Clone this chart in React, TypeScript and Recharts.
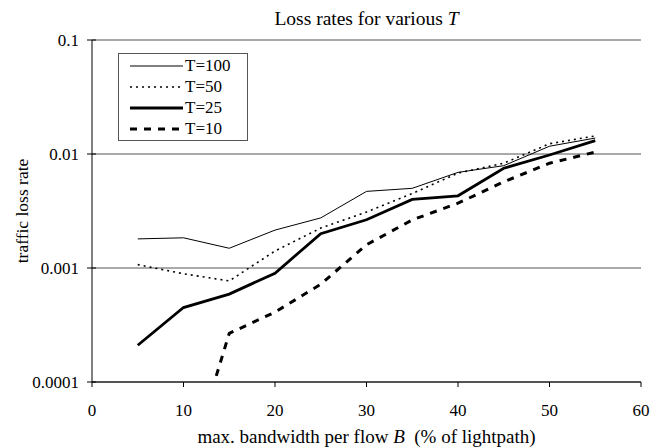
import { CartesianGrid, Label, Line, LineChart, XAxis, YAxis } from "recharts";

const bandwidth = [5, 10, 15, 20, 25, 30, 35, 40, 45, 50, 55];
const lossT100 = [0.0018, 0.00184, 0.00149, 0.00215, 0.00275, 0.0047, 0.005, 0.0069, 0.0079, 0.0117, 0.0138];
const lossT50 = [0.00107, 0.00089, 0.00077, 0.00141, 0.00224, 0.0031, 0.0045, 0.0068, 0.0083, 0.0123, 0.0144];
const lossT25 = [0.00021, 0.00045, 0.00059, 0.0009, 0.002, 0.00265, 0.004, 0.0043, 0.0075, 0.0098, 0.0131];
const lossT10 = [null, 0.000013, 0.000267, 0.00041, 0.00072, 0.0016, 0.00264, 0.0037, 0.0057, 0.0083, 0.0104];
const xTicks = [0, 10, 20, 30, 40, 50, 60];
const yTicks = [0.0001, 0.001, 0.01, 0.1];

const series = [
  { key: "t100", name: "T=100", width: 1, dash: undefined },
  { key: "t50", name: "T=50", width: 1.6, dash: "2 4" },
  { key: "t25", name: "T=25", width: 2.8, dash: undefined },
  { key: "t10", name: "T=10", width: 3, dash: "7 7" },
];

const data = bandwidth.map((b, i) => ({
  b,
  t100: lossT100[i],
  t50: lossT50[i],
  t25: lossT25[i],
  t10: lossT10[i],
}));

const font = "'Liberation Serif', 'Times New Roman', serif";

function LegendBox() {
  return (
    <div
      style={{
        position: "absolute",
        left: 118,
        top: 53,
        width: 117,
        border: "1px solid #555",
        background: "#fff",
        padding: "1px 0 1px 11px",
        fontFamily: font,
        fontSize: 17,
        lineHeight: "21px",
      }}
    >
      {series.map((s) => (
        <div key={s.key} style={{ display: "flex", alignItems: "center", height: 21 }}>
          <svg width={53} height={10}>
            <line x1={0} x2={53} y1={5} y2={5} stroke="#000" strokeWidth={s.width} strokeDasharray={s.dash} />
          </svg>
          <span style={{ marginLeft: 2 }}>{s.name}</span>
        </div>
      ))}
    </div>
  );
}

// y ticks in the original cross the axis line
function YTick({ x, y, payload }: any) {
  return (
    <g>
      <line x1={x + 8} x2={x + 17} y1={y} y2={y} stroke="#000" />
      <text x={x} y={y} dy="0.355em" textAnchor="end" fontFamily={font} fontSize={17} fill="#000">
        {String(payload.value)}
      </text>
    </g>
  );
}

export default function App() {
  return (
    <div style={{ position: "absolute", left: 0, top: 0, width: 652, height: 448, background: "#fff" }}>
      <LineChart width={652} height={448} data={data} margin={{ top: 40, right: 11, bottom: 0, left: 0 }}>
        <CartesianGrid vertical={false} stroke="#555" strokeWidth={1} />
        <XAxis
          dataKey="b"
          type="number"
          domain={[0, 60]}
          ticks={xTicks}
          height={66}
          stroke="#000"
          tickSize={5}
          tickMargin={17}
          tick={{ fill: "#000", fontSize: 17, fontFamily: font }}
        >
          <Label
            content={({ viewBox }: any) => (
              <text
                x={viewBox.x + viewBox.width / 2}
                y={443}
                textAnchor="middle"
                fontFamily={font}
                fontSize={19}
                fill="#000"
                style={{ whiteSpace: "pre" }}
              >
                max. bandwidth per flow <tspan fontStyle="italic">B</tspan>{"\u00a0 "}(% of lightpath)
              </text>
            )}
          />
        </XAxis>
        <YAxis
          scale="log"
          type="number"
          domain={[0.0001, 0.1]}
          ticks={yTicks}
          allowDataOverflow
          width={92}
          stroke="#000"
          tickSize={0}
          tickMargin={13}
          tickLine={false}
          tick={<YTick />}
        >
          <Label
            content={({ viewBox }: any) => {
              const cx = 22;
              const cy = viewBox.y + viewBox.height / 2;
              return (
                <text
                  x={cx}
                  y={cy}
                  transform={`rotate(-90 ${cx} ${cy})`}
                  textAnchor="middle"
                  dominantBaseline="central"
                  fontFamily={font}
                  fontSize={17.5}
                  fill="#000"
                >
                  traffic loss rate
                </text>
              );
            }}
          />
        </YAxis>
        {series.map((s) => (
          <Line
            key={s.key}
            dataKey={s.key}
            name={s.name}
            stroke="#000"
            strokeWidth={s.width}
            strokeDasharray={s.dash}
            dot={false}
            activeDot={false}
            isAnimationActive={false}
          />
        ))}
      </LineChart>
      <LegendBox />
      <div
        style={{
          position: "absolute",
          top: 7,
          left: 92,
          width: 549,
          textAlign: "center",
          fontFamily: font,
          fontSize: 19.5,
          lineHeight: "24px",
        }}
      >
        Loss rates for various <i>T</i>
      </div>
    </div>
  );
}
